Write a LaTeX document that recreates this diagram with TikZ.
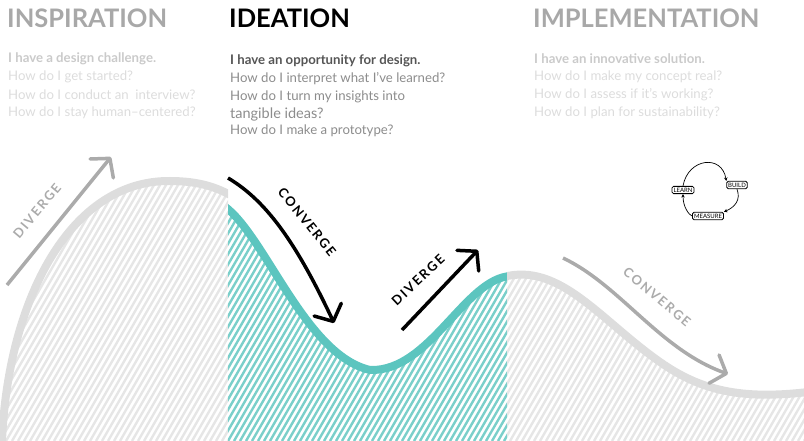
\documentclass[tikz,border=0pt]{standalone}
\usepackage{fontspec}
\setmainfont{Lato}
\newfontfamily\spacedfont{Lato}[LetterSpace=14]
\usetikzlibrary{arrows.meta}

\definecolor{tealline}{HTML}{5CC5BF}
\definecolor{tealhatch}{HTML}{7ACFCA}
\definecolor{curvegray}{HTML}{DDDDDD}
\definecolor{hatchgray}{HTML}{E6E6E6}
\definecolor{headgray}{HTML}{A8A8A8}
\definecolor{faint}{HTML}{DCDCDC}
\definecolor{faintlead}{HTML}{CACACA}
\definecolor{midgray}{HTML}{8C8C8C}
\definecolor{leadgray}{HTML}{555555}
\definecolor{arrowgray}{HTML}{ABABAB}

% the three stretches of the wave
\def\leftwave{(2,441) .. controls (8,300) and (70,180) .. (170,181) .. controls (200,181) and (218,188) .. (232,196)}
\def\midwave{(224,206) .. controls (265,235) and (305,355) .. (370,370) .. controls (430,372) and (465,278) .. (511,276)}
\def\rightwave{(503,277) .. controls (560,262) and (600,320) .. (660,362) .. controls (700,390) and (740,400) .. (808,392)}

\begin{document}
\begin{tikzpicture}[x=1pt,y=-1pt,
  heading/.style={anchor=base west, inner sep=0pt, font=\fontsize{25.5}{25.5}\selectfont\bfseries},
  qline/.style={anchor=west, inner sep=0pt, font=\fontsize{13.2}{13.2}\selectfont},
  lead/.style={qline, font=\fontsize{13.2}{13.2}\selectfont\bfseries},
  wave/.style={line width=8pt},
  hatch/.style={line width=2.4pt},
  bigarrow/.style={line width=3.5pt, -{Straight Barb[length=13pt,width=30pt,line cap=round,round]}},
  arrowlabel/.style={inner sep=0pt, font=\fontsize{13}{13}\selectfont\spacedfont\bfseries},
  loopbox/.style={draw=black, line width=0.8pt, rounded corners=1.5pt, inner sep=1.5pt,
                  fill=white, font=\fontsize{6}{6}\selectfont},
  looparrow/.style={line width=0.7pt, -{Stealth[length=3.5pt,width=3.5pt]}}
]
\useasboundingbox (0,0) rectangle (804,441);

% ---------- hatched ground under the wave ----------
\begin{scope}
  \clip \leftwave -- (232,441) -- cycle;
  \clip (0,0) rectangle (228,441);
  \foreach \x in {-300,-294,...,240}
    \draw[hatch, hatchgray] (\x,441) -- ++(255,-441);
\end{scope}
\begin{scope}
  \clip \midwave -- (511,441) -- (224,441) -- cycle;
  \clip (228,0) rectangle (507,441);
  \foreach \x in {-60,-54,...,520}
    \draw[hatch, tealhatch] (\x,441) -- ++(255,-441);
\end{scope}
\begin{scope}
  \clip \rightwave -- (808,441) -- (503,441) -- cycle;
  \clip (507,0) rectangle (804,441);
  \foreach \x in {240,246,...,810}
    \draw[hatch, hatchgray] (\x,441) -- ++(255,-441);
\end{scope}

% ---------- the wave itself ----------
\begin{scope}
  \clip (0,0) rectangle (228,441);
  \draw[wave, curvegray] \leftwave;
\end{scope}
\begin{scope}
  \clip (228,0) rectangle (507,441);
  \draw[wave, tealline] \midwave;
\end{scope}
\begin{scope}
  \clip (507,0) rectangle (804,441);
  \draw[wave, curvegray] \rightwave;
\end{scope}

% ---------- headings ----------
\node[heading, headgray] (hinsp) at (7,28) {INSPIRATION};
\node[heading, black]    (hidea) at (229,28) {IDEATION};
\node[heading, headgray] (himpl) at (533,28) {IMPLEMENTATION};

% ---------- questions ----------
\node[lead, faintlead] (i1) at (8,59)  {I have a design challenge.};
\node[qline, faint]    (i2) at (8,77)  {How do I get started?};
\node[qline, faint]    (i3) at (8,95)  {How do I conduct an \ interview?};
\node[qline, faint]    (i4) at (8,113) {How do I stay human–centered?};

\node[lead, leadgray]  (d1) at (230,61)  {I have an opportunity for design.};
\node[qline, midgray]  (d2) at (230,79)  {How do I interpret what I’ve learned?};
\node[qline, midgray]  (d3) at (230,97)  {How do I turn my insights into};
\node[qline, midgray, font=\fontsize{14.5}{14.5}\selectfont] (d4) at (230,114) {tangible ideas?};
\node[qline, midgray]  (d5) at (230,131) {How do I make a prototype?};

\node[lead, faintlead] (m1) at (534,59)  {I have an innovative solution.};
\node[qline, faint]    (m2) at (534,77)  {How do I make my concept real?};
\node[qline, faint]    (m3) at (534,95)  {How do I assess if it’s working?};
\node[qline, faint]    (m4) at (534,113) {How do I plan for sustainability?};

% ---------- diverge / converge arrows ----------
\coordinate (a1s) at (7,285);   \coordinate (a1e) at (111,157);
\draw[bigarrow, arrowgray] (a1s) -- (a1e);
\node[arrowlabel, arrowgray, rotate=50] (l1) at (37,211) {DIVERGE};

\coordinate (a2s) at (228,178); \coordinate (a2e) at (334,323);
\draw[bigarrow, black] (a2s) .. controls (265,200) and (295,240) .. (a2e);
\node[arrowlabel, black, rotate=-51] (l2) at (307,222) {CONVERGE};

\coordinate (a3s) at (402,330); \coordinate (a3e) at (478,250);
\draw[bigarrow, black] (a3s) -- (a3e);
\node[arrowlabel, black, rotate=43] (l3) at (418,280) {DIVERGE};

\coordinate (a4s) at (563,258); \coordinate (a4e) at (728,374);
\draw[bigarrow, arrowgray] (a4s) .. controls (620,285) and (660,350) .. (a4e);
\node[arrowlabel, arrowgray, rotate=-40] (l4) at (657,297) {CONVERGE};

% ---------- build / measure / learn loop ----------
\node[loopbox] (learn)   at (683,190) {LEARN};
\node[loopbox] (build)   at (737,185) {BUILD};
\node[loopbox] (measure) at (708,216) {MEASURE};
\draw[looparrow] (learn.north) .. controls (688,158) and (722,154) .. (build.north west);
\draw[looparrow] (build.south) .. controls (741,200) and (735,207) .. (measure.north east);
\draw[looparrow] (measure.west) .. controls (689,215) and (683,207) .. (learn.south);
\end{tikzpicture}
\end{document}
